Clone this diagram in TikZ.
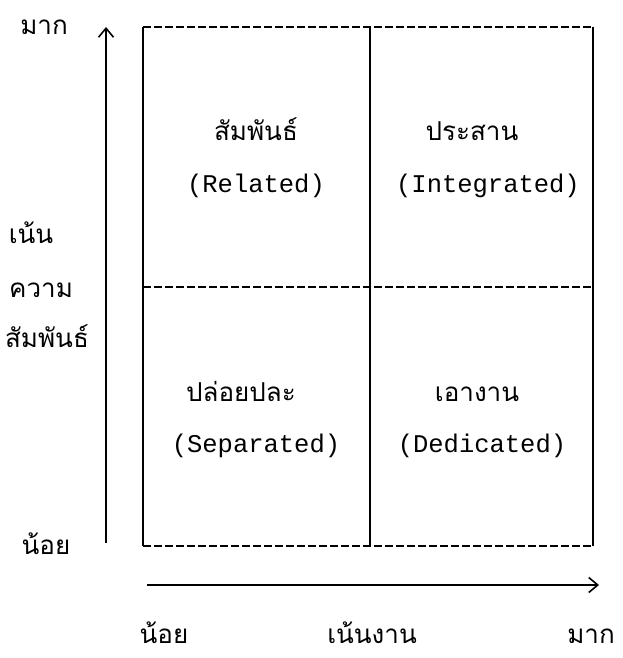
\documentclass[tikz,border=0pt]{standalone}
\usepackage{fontspec}
\setmainfont{Liberation Mono}
\newfontfamily\thaifont[Script=Thai]{Loma}
\usetikzlibrary{arrows.meta}
\begin{document}
\begin{tikzpicture}[x=1pt,y=-1pt,
  boxline/.style={line width=1.6pt},
  dashline/.style={line width=1.6pt,dash pattern=on 8pt off 3pt},
  axis/.style={line width=1.6pt,-{Straight Barb[length=9pt,width=15pt,line width=1.6pt]}},
  thai/.style={font=\thaifont\fontsize{26}{28}\selectfont, inner sep=0pt, anchor=base},
  eng/.style={font=\fontsize{25.5}{28}\selectfont, inner sep=0pt, anchor=base}]
\useasboundingbox (0,0) rectangle (622,658);
% box corners
\coordinate (TL) at (143,27);
\coordinate (TR) at (593,27);
\coordinate (BL) at (143,546);
\coordinate (BR) at (593,546);
\coordinate (MT) at (370,27);
\coordinate (MB) at (370,546);
\coordinate (ML) at (143,287);
\coordinate (MR) at (593,287);
% axes ends
\coordinate (ys) at (106,543);
\coordinate (ye) at (106,27);
\coordinate (xs) at (147,585);
\coordinate (xe) at (599,585);
% solid vertical lines
\draw[boxline] (TL) -- (BL);
\draw[boxline] (MT) -- (MB);
\draw[boxline] (TR) -- (BR);
% dashed horizontal lines
\draw[dashline] (TL) -- (TR);
\draw[dashline] (ML) -- (MR);
\draw[dashline] (BL) -- (BR);
% axes
\draw[axis] (ys) -- (ye);
\draw[axis] (xs) -- (xe);
% quadrant labels
\node[thai] (q1t) at (256,140) {สัมพันธ์};
\node[eng]  (q1e) at (256,192) {(Related)};
\node[thai] (q2t) at (472,140) {ประสาน};
\node[eng]  (q2e) at (488,192) {(Integrated)};
\node[thai] (q3t) at (241,401) {ปล่อยปละ};
\node[eng]  (q3e) at (256,452) {(Separated)};
\node[thai] (q4t) at (477,401) {เอางาน};
\node[eng]  (q4e) at (482,452) {(Dedicated)};
% y axis labels
\node[thai] (ymax) at (44,35) {มาก};
\node[thai] (y1) at (31,243) {เน้น};
\node[thai] (y2) at (41,297) {ความ};
\node[thai] (y3) at (47,347) {สัมพันธ์};
\node[thai] (ymin) at (46,554) {น้อย};
% x axis labels
\node[thai] (xmin) at (164,643) {น้อย};
\node[thai] (xmid) at (372,643) {เน้นงาน};
\node[thai] (xmax) at (591,643) {มาก};
\end{tikzpicture}
\end{document}
